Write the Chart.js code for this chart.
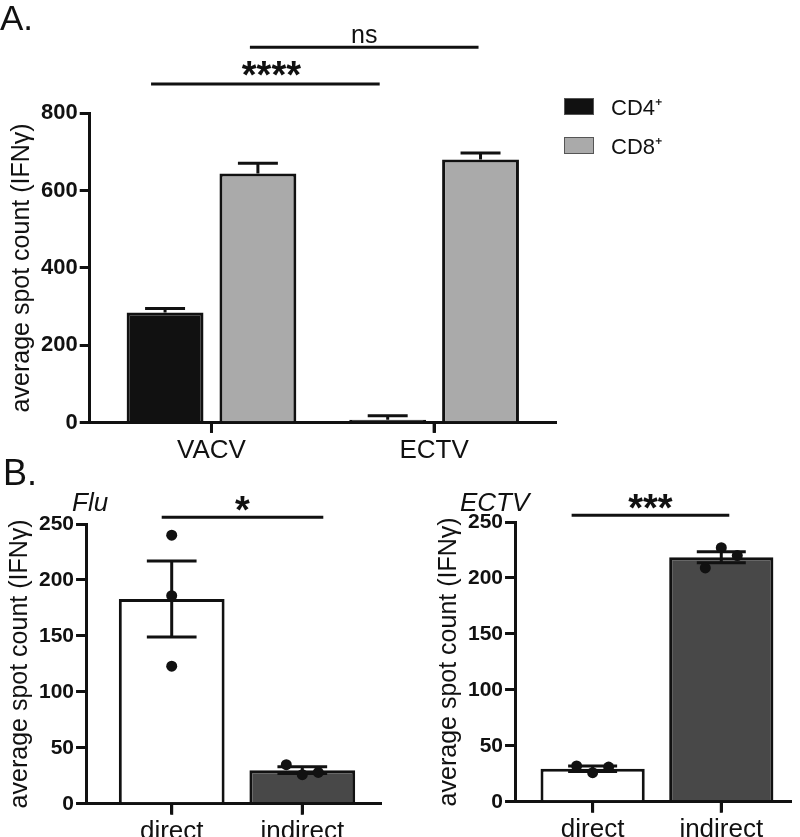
<!DOCTYPE html>
<html>
<head>
<meta charset="utf-8">
<title>IFN-gamma spot counts</title>
<script src="https://cdn.jsdelivr.net/npm/chart.js@4.4.1/dist/chart.umd.min.js"></script>
<style>
  html, body { margin: 0; padding: 0; background: #fff; overflow: hidden; }
  #page { position: relative; width: 800px; height: 837px; }
  .panel { position: absolute; }
  #legendA { position: absolute; left: 564px; top: 93px; font: 22px 'Liberation Sans', Arial, sans-serif; color: #111; }
  .lg-item { display: flex; align-items: center; height: 26px; margin-bottom: 13px; }
  .lg-box { display: inline-block; width: 28px; height: 15px; border: 1px solid #555; margin-right: 17px; }
</style>
</head>
<body>
<div id="page">
  <div class="panel" style="left:0;top:0;width:800px;height:470px"><canvas id="chartA"></canvas></div>
  <div class="panel" style="left:0;top:450px;width:400px;height:400px"><canvas id="chartFlu"></canvas></div>
  <div class="panel" style="left:400px;top:450px;width:400px;height:400px"><canvas id="chartEctv"></canvas></div>
  <div id="legendA"></div>
</div>
<script>
const FONT = "'Liberation Sans', Arial, Helvetica, sans-serif";
const INK = '#111111';

// panel A - mean spot counts with SEM
const virusLabels = ['VACV', 'ECTV'];
const cd4Mean = [285, 8];
const cd4Err = [10, 10];
const cd8Mean = [644, 680];
const cd8Err = [26, 17];
const aTicks = [0, 200, 400, 600, 800];

// panel B - direct vs indirect presentation
const routeLabels = ['direct', 'indirect'];
const fluMean = [183, 30];
const fluErr = [34, 3];
const fluDirect = [240, 186, 123];
const fluIndirect = [35, 26, 28];
const ectvMean = [29.5, 218.5];
const ectvErr = [2.5, 5];
const ectvDirect = [32, 26, 31];
const ectvIndirect = [209, 227, 220];
const bTicks = [0, 50, 100, 150, 200, 250];

Chart.defaults.font.family = FONT;
Chart.defaults.color = INK;

// error bars (mean + SEM, or mean +/- SEM)
const errorBars = {
  id: 'errorBars',
  afterDatasetDraw(chart, args, opts) {
    const ds = chart.data.datasets[args.index];
    if (!ds.errors) return;
    const yScale = chart.scales.y;
    const ctx = chart.ctx;
    ctx.save();
    ctx.strokeStyle = INK;
    ctx.lineWidth = 3;
    args.meta.data.forEach((bar, i) => {
      const v = ds.data[i].y;
      const top = yScale.getPixelForValue(v + ds.errors[i]);
      const bottom = ds.bothWays ? yScale.getPixelForValue(v - ds.errors[i]) : bar.y;
      const cap = bar.width * opts.cap / 2;
      ctx.beginPath();
      ctx.moveTo(bar.x, bottom);
      ctx.lineTo(bar.x, top);
      ctx.moveTo(bar.x - cap, top);
      ctx.lineTo(bar.x + cap, top);
      if (ds.bothWays) {
        ctx.moveTo(bar.x - cap, bottom);
        ctx.lineTo(bar.x + cap, bottom);
      }
      ctx.stroke();
    });
    ctx.restore();
  }
};

// category tick marks under the x axis
const xTickMarks = {
  id: 'xTickMarks',
  afterDraw(chart, args, opts) {
    const xScale = chart.scales.x;
    const ctx = chart.ctx;
    const y0 = chart.chartArea.bottom;
    ctx.save();
    ctx.fillStyle = INK;
    opts.cats.forEach((c, i) => {
      const x = xScale.getPixelForValue(i);
      ctx.fillRect(x - 1.5, y0, 3, opts.markSize);
    });
    ctx.restore();
  }
};

// spread replicate dots sideways when they overlap
const jitter = {
  id: 'jitter',
  afterDatasetsUpdate(chart) {
    chart.data.datasets.forEach((ds, di) => {
      if (ds.type !== 'scatter') return;
      const pts = chart.getDatasetMeta(di).data;
      const r = ds.pointRadius;
      const groups = {};
      pts.forEach((p, i) => {
        const k = ds.data[i].x;
        (groups[k] = groups[k] || []).push(p);
      });
      Object.values(groups).forEach(g => {
        const crowded = g.some((p, i) => g.some((q, j) => j > i && Math.abs(p.y - q.y) < 2 * r + 2));
        if (!crowded) return;
        g.forEach((p, i) => { p.x += (i - (g.length - 1) / 2) * (2 * r + 5); });
      });
    });
  }
};

// significance brackets
const sigBars = {
  id: 'sigBars',
  afterDraw(chart, args, opts) {
    const ctx = chart.ctx;
    const yScale = chart.scales.y;
    (opts.items || []).forEach(item => {
      const a = chart.getDatasetMeta(item.from[0]).data[item.from[1]];
      const b = chart.getDatasetMeta(item.to[0]).data[item.to[1]];
      const x1 = a.x + item.shift[0];
      const x2 = b.x + item.shift[1];
      const y = yScale.getPixelForValue(item.level);
      ctx.save();
      ctx.strokeStyle = INK;
      ctx.lineWidth = 3;
      ctx.beginPath();
      ctx.moveTo(x1, y);
      ctx.lineTo(x2, y);
      ctx.stroke();
      ctx.fillStyle = INK;
      ctx.font = item.font;
      ctx.textAlign = 'center';
      ctx.textBaseline = 'alphabetic';
      ctx.fillText(item.text, (x1 + x2) / 2 + (item.dx || 0), y + item.dy);
      ctx.restore();
    });
  }
};

// free labels: panel letters, virus names
const labels = {
  id: 'labels',
  afterDraw(chart, args, opts) {
    const ctx = chart.ctx;
    ctx.save();
    ctx.fillStyle = INK;
    ctx.textAlign = 'left';
    ctx.textBaseline = 'alphabetic';
    (opts.items || []).forEach(t => {
      ctx.font = t.font;
      ctx.fillText(t.text, t.x, t.y);
    });
    ctx.restore();
  }
};

const htmlLegend = {
  id: 'htmlLegend',
  afterUpdate(chart, args, opts) {
    const box = document.getElementById(opts.containerID);
    if (!box) return;
    box.innerHTML = '';
    chart.options.plugins.legend.labels.generateLabels(chart).forEach(item => {
      const row = document.createElement('div');
      row.className = 'lg-item';
      const sw = document.createElement('span');
      sw.className = 'lg-box';
      sw.style.background = item.fillStyle;
      const tx = document.createElement('span');
      tx.textContent = item.text;
      row.append(sw, tx);
      box.appendChild(row);
    });
  }
};

function axes(opts) {
  return {
    x: {
      type: 'linear',
      min: opts.xMin,
      max: opts.xMax,
      offset: false,
      border: { display: true, color: INK, width: 3 },
      grid: {
        offset: false, drawOnChartArea: false, drawTicks: true,
        color: INK, lineWidth: 3, tickColor: INK, tickWidth: 3, tickLength: 10
      },
      ticks: {
        stepSize: 1,
        includeBounds: false,
        padding: 2,
        font: { size: opts.xFont },
        callback: v => opts.cats[v]
      }
    },
    y: {
      min: 0,
      max: opts.yTicks[opts.yTicks.length - 1],
      border: { display: true, color: INK, width: 3 },
      grid: { drawOnChartArea: false, color: INK, lineWidth: 3, tickLength: 10 },
      afterBuildTicks: s => { s.ticks = opts.yTicks.map(v => ({ value: v })); },
      ticks: { padding: 2, font: { size: opts.yFont, weight: 'bold' } },
      title: {
        display: true,
        text: 'average spot count (IFNγ)',
        font: { size: 25 },
        padding: { top: 0, bottom: 2 }
      }
    }
  };
}

const xy = (vals) => vals.map((v, i) => ({ x: i, y: v }));
const dots = (groups) => groups.flatMap((vals, i) => vals.map(v => ({ x: i, y: v })));

new Chart(document.getElementById('chartA'), {
  type: 'bar',
  data: {
    datasets: [
      { label: 'CD4⁺', data: xy(cd4Mean), errors: cd4Err, backgroundColor: INK, borderColor: INK,
        borderWidth: 3, categoryPercentage: 0.834, barPercentage: 0.828 },
      { label: 'CD8⁺', data: xy(cd8Mean), errors: cd8Err, backgroundColor: '#aaaaaa', borderColor: INK,
        borderWidth: 3, categoryPercentage: 0.834, barPercentage: 0.828 }
    ]
  },
  options: {
    responsive: true,
    maintainAspectRatio: false,
    animation: false,
    layout: { padding: { top: 113, right: 245, bottom: 2, left: 7 } },
    scales: axes({ xMin: -0.547, xMax: 1.543, cats: virusLabels, xFont: 26, yFont: 22, yTicks: aTicks }),
    plugins: {
      legend: { display: false },
      tooltip: { enabled: false },
      htmlLegend: { containerID: 'legendA' },
      errorBars: { cap: 0.52 },
      xTickMarks: { cats: virusLabels, markSize: 10 },
      sigBars: { items: [
        { from: [0, 0], to: [0, 1], shift: [-14, -8], level: 875, text: '****', font: 'bold 38px ' + FONT, dy: 4, dx: 6 },
        { from: [1, 0], to: [1, 1], shift: [-8, -2], level: 970, text: 'ns', font: '25px ' + FONT, dy: -4 }
      ] },
      labels: { items: [ { text: 'A.', x: 0, y: 30, font: '35px ' + FONT } ] }
    }
  },
  plugins: [errorBars, xTickMarks, sigBars, labels, htmlLegend]
});

function panelB(id, mean, err, direct, indirect, fill, title, sig, pad) {
  return new Chart(document.getElementById(id), {
    type: 'bar',
    data: {
      datasets: [
        { type: 'scatter', label: 'replicates', data: dots([direct, indirect]), backgroundColor: INK,
          borderColor: INK, pointRadius: 5.5, pointBorderWidth: 0, order: 0 },
        { label: 'mean', data: xy(mean), errors: err, bothWays: true, backgroundColor: fill, borderColor: INK,
          borderWidth: 3, categoryPercentage: 0.81, barPercentage: 1, order: 1 }
      ]
    },
    options: {
      responsive: true,
      maintainAspectRatio: false,
      animation: false,
      layout: { padding: pad.layout },
      scales: axes({ xMin: pad.xMin, xMax: pad.xMax, cats: routeLabels, xFont: 26, yFont: 21, yTicks: bTicks }),
      plugins: {
        legend: { display: false },
        tooltip: { enabled: false },
        errorBars: { cap: 0.47 },
        xTickMarks: { cats: routeLabels, markSize: 11 },
        sigBars: { items: [
          { from: [1, 0], to: [1, 1], shift: pad.shift, level: 256, text: sig, font: 'bold 38px ' + FONT, dy: 6 }
        ] },
        labels: { items: pad.labels.concat([{ text: title, x: pad.titleX, y: 61, font: 'italic 26px ' + FONT }]) }
      }
    },
    plugins: [errorBars, xTickMarks, jitter, sigBars, labels]
  });
}

panelB('chartFlu', fluMean, fluErr, fluDirect, fluIndirect, ['#ffffff', '#484848'], 'Flu', '*', {
  layout: { top: 74, right: 20, bottom: 1, left: 5 },
  xMin: -0.656, xMax: 1.595, shift: [-10, 21],
  titleX: 72,
  labels: [{ text: 'B.', x: 3, y: 35, font: '36px ' + FONT }]
});

panelB('chartEctv', ectvMean, ectvErr, ectvDirect, ectvIndirect, ['#ffffff', '#484848'], 'ECTV', '***', {
  layout: { top: 72, right: 10, bottom: 3, left: 34 },
  xMin: -0.603, xMax: 1.534, shift: [-21, 8],
  titleX: 60,
  labels: []
});
</script>
</body>
</html>
